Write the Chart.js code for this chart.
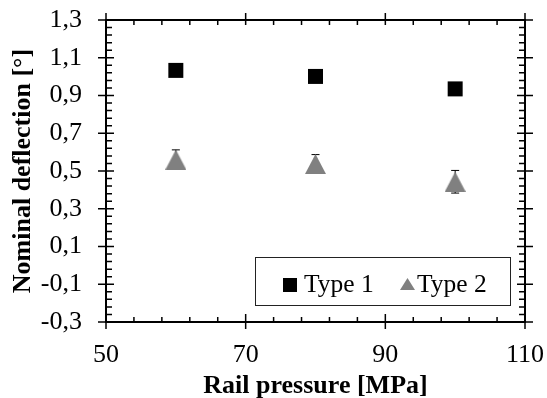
<!DOCTYPE html>
<html>
<head>
<meta charset="utf-8">
<script src="https://cdn.jsdelivr.net/npm/chart.js@4.4.0/dist/chart.umd.min.js"></script>
<style>
  html, body { margin: 0; padding: 0; background: #fff; }
  #wrap { width: 547px; height: 398px; }
</style>
</head>
<body>
<div id="wrap"><canvas id="deflectionChart" width="547" height="398"></canvas></div>
<script>
// values
const pressures = [60, 80, 100];
const type1 = [1.033, 1.001, 0.935];
const type1Err = [0.02, 0.02, 0.02];
const type2 = [0.56, 0.537, 0.443];
const type2Err = [0.052, 0.05, 0.06];
const xTicks = [50, 70, 90, 110];
const yTicks = [-0.3, -0.1, 0.1, 0.3, 0.5, 0.7, 0.9, 1.1, 1.3];

const serif = "'Liberation Serif', 'Times New Roman', serif";

function triangleImage(w, h, color) {
  const c = document.createElement("canvas");
  c.width = w;
  c.height = h;
  const g = c.getContext("2d");
  g.fillStyle = color;
  g.beginPath();
  g.moveTo(w / 2, 0);
  g.lineTo(w, h);
  g.lineTo(0, h);
  g.closePath();
  g.fill();
  return c;
}

function noPadding(scale) {
  scale.paddingLeft = 0;
  scale.paddingRight = 0;
  scale.paddingTop = 0;
  scale.paddingBottom = 0;
}

const errorBars = {
  id: "errorBars",
  beforeDatasetsDraw(chart) {
    const { ctx, scales: { y } } = chart;
    ctx.save();
    ctx.strokeStyle = "#000";
    ctx.lineWidth = 1;
    chart.data.datasets.forEach((ds, i) => {
      const meta = chart.getDatasetMeta(i);
      meta.data.forEach((pt, j) => {
        const v = ds.data[j].y;
        const e = ds.errors[j];
        const top = y.getPixelForValue(v + e);
        const bot = y.getPixelForValue(v - e);
        ctx.beginPath();
        ctx.moveTo(pt.x, top);
        ctx.lineTo(pt.x, bot);
        ctx.moveTo(pt.x - 4, top);
        ctx.lineTo(pt.x + 4, top);
        ctx.moveTo(pt.x - 4, bot);
        ctx.lineTo(pt.x + 4, bot);
        ctx.stroke();
      });
    });
    ctx.restore();
  },
};

const frameTicks = {
  id: "frameTicks",
  afterDraw(chart) {
    const { ctx, chartArea: a, scales: { x, y } } = chart;
    ctx.save();
    ctx.strokeStyle = "#000";
    ctx.lineWidth = 1.5;
    ctx.beginPath();
    // minor ticks, inside
    for (let v = 50; v <= 110.001; v += 4) {
      const px = x.getPixelForValue(v);
      ctx.moveTo(px, a.bottom);
      ctx.lineTo(px, a.bottom - 5);
      ctx.moveTo(px, a.top);
      ctx.lineTo(px, a.top + 5);
    }
    for (let v = -0.3; v <= 1.3001; v += 0.04) {
      const py = y.getPixelForValue(v);
      ctx.moveTo(a.left, py);
      ctx.lineTo(a.left + 6, py);
      ctx.moveTo(a.right, py);
      ctx.lineTo(a.right - 6, py);
    }
    // major ticks
    xTicks.forEach((v) => {
      const px = x.getPixelForValue(v);
      ctx.moveTo(px, a.bottom - 8);
      ctx.lineTo(px, a.bottom + 7);
      ctx.moveTo(px, a.top);
      ctx.lineTo(px, a.top - 7);
    });
    yTicks.forEach((v) => {
      const py = y.getPixelForValue(v);
      ctx.moveTo(a.left - 8, py);
      ctx.lineTo(a.left + 8, py);
      ctx.moveTo(a.right - 8, py);
      ctx.lineTo(a.right + 8, py);
    });
    ctx.stroke();
    ctx.lineWidth = 2;
    ctx.strokeRect(a.left, a.top, a.right - a.left, a.bottom - a.top);
    ctx.restore();
  },
};

const boxLegend = {
  id: "boxLegend",
  afterDraw(chart) {
    const { ctx } = chart;
    ctx.save();
    ctx.fillStyle = "#fff";
    ctx.fillRect(255, 257, 255, 48);
    ctx.strokeStyle = "#222";
    ctx.lineWidth = 1;
    ctx.strokeRect(255.5, 257.5, 255, 48);
    ctx.fillStyle = "#000";
    ctx.fillRect(283, 278, 14, 14);
    ctx.drawImage(triangleImage(15, 12, "#808080"), 400, 278);
    ctx.font = "25.5px " + serif;
    ctx.textBaseline = "alphabetic";
    ctx.fillStyle = "#000";
    ctx.fillText(chart.data.datasets[0].label, 304, 292);
    ctx.fillText(chart.data.datasets[1].label, 417, 292);
    ctx.restore();
  },
};

new Chart(document.getElementById("deflectionChart"), {
  type: "scatter",
  data: {
    datasets: [
      {
        label: "Type 1",
        data: pressures.map((p, i) => ({ x: p, y: type1[i] })),
        errors: type1Err,
        pointStyle: "rect",
        pointRadius: 10.6,
        pointHoverRadius: 10.6,
        backgroundColor: "#000",
        borderWidth: 0,
      },
      {
        label: "Type 2",
        data: pressures.map((p, i) => ({ x: p, y: type2[i] })),
        errors: type2Err,
        pointStyle: triangleImage(21, 20, "#808080"),
        pointRadius: 10,
        backgroundColor: "#808080",
        borderWidth: 0,
      },
    ],
  },
  options: {
    responsive: false,
    animation: false,
    events: [],
    layout: { padding: { left: 0, right: 22, top: 20, bottom: 0 } },
    plugins: {
      legend: { display: false },
      tooltip: { enabled: false },
    },
    scales: {
      x: {
        type: "linear",
        min: 50,
        max: 110,
        afterBuildTicks: (scale) => {
          scale.ticks = xTicks.map((v) => ({ value: v }));
        },
        afterFit: (scale) => {
          scale.height = 76;
          noPadding(scale);
        },
        grid: { display: false },
        border: { display: false },
        ticks: {
          padding: 10,
          color: "#000",
          font: { family: serif, size: 26 },
          maxRotation: 0,
          autoSkip: false,
        },
        title: {
          display: true,
          text: "Rail pressure [MPa]",
          color: "#000",
          font: { family: serif, size: 26, weight: "bold" },
          padding: { top: 0, bottom: -4 },
        },
      },
      y: {
        min: -0.3,
        max: 1.3,
        afterBuildTicks: (scale) => {
          scale.ticks = yTicks.map((v) => ({ value: v }));
        },
        afterFit: (scale) => {
          scale.width = 106;
          noPadding(scale);
        },
        grid: { display: false },
        border: { display: false },
        ticks: {
          padding: 16,
          color: "#000",
          font: { family: serif, size: 26 },
          autoSkip: false,
          callback: (v) => v.toFixed(1).replace(".", ","),
        },
        title: {
          display: true,
          text: "Nominal deflection [°]",
          color: "#000",
          font: { family: serif, size: 26, weight: "bold" },
          padding: { top: 7.5, bottom: 0 },
        },
      },
    },
  },
  plugins: [errorBars, frameTicks, boxLegend],
});
</script>
</body>
</html>
